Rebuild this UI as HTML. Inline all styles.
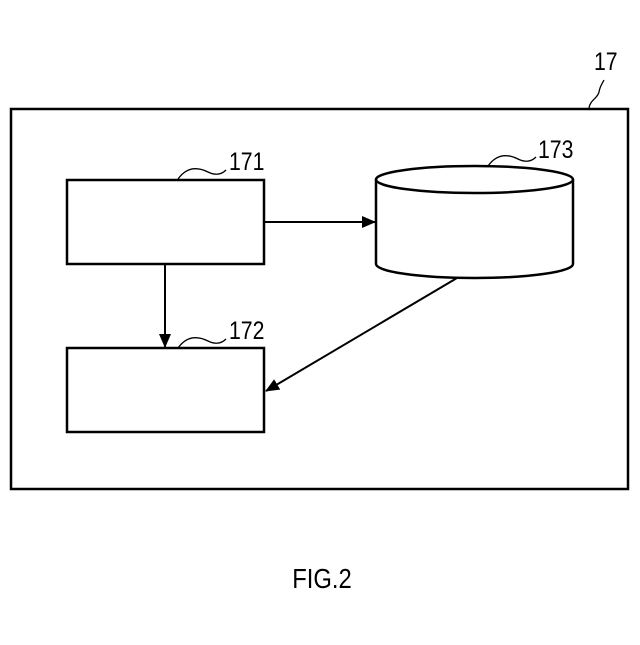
<!DOCTYPE html>
<html><head><style>body{margin:0;background:#fff}</style></head><body>
<svg width="640" height="640" viewBox="0 0 640 640" xmlns="http://www.w3.org/2000/svg" font-family="Liberation Sans, sans-serif">
<defs><marker id="a" markerWidth="14" markerHeight="12" refX="13" refY="6" orient="auto" markerUnits="userSpaceOnUse"><path d="M0,0 L14,6 L0,12 Z" fill="#000"/></marker></defs>
<g fill="none" stroke="#000" stroke-width="2.5">
<rect x="11" y="109" width="617" height="380"/>
<rect x="67" y="180" width="197" height="84"/>
<rect x="67" y="348" width="197" height="84"/>
<path d="M376,179 L376,264 A98.5,14 0 0 0 573,264 L573,179"/>
<ellipse cx="474.5" cy="179.5" rx="98.5" ry="13.5"/>
</g>
<g stroke="#000" stroke-width="2" fill="none">
<line x1="264" y1="222" x2="375" y2="222" marker-end="url(#a)"/>
<line x1="165" y1="264" x2="165" y2="347" marker-end="url(#a)"/>
<line x1="457" y1="278" x2="266" y2="391" marker-end="url(#a)"/>
<path d="M178,179 C188,165 200,168 208,172 C216,176 222,174 226,170" stroke-width="1.3"/>
<path d="M178,348 C188,334 200,337 208,341 C216,345 222,343 226,339" stroke-width="1.3"/>
<path d="M488,166 C498,152 510,155 518,159 C526,163 532,161 536,157" stroke-width="1.3"/>
<path d="M589,108 C590,100 598,98 599,92 C600,86 602,84 604,80" stroke-width="1.3"/>
</g>
<g font-size="25" fill="#000">
<text transform="translate(229,170) scale(0.85,1)">171</text>
<text transform="translate(229,339) scale(0.85,1)">172</text>
<text transform="translate(538,158) scale(0.85,1)">173</text>
<text transform="translate(594,70) scale(0.85,1)">17</text>
<text transform="translate(322,588) scale(0.85,1)" font-size="28" text-anchor="middle">FIG.2</text>
</g>
</svg>
</body></html>
